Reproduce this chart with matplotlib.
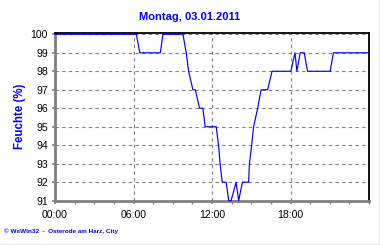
import matplotlib
matplotlib.use("Agg")
import matplotlib.pyplot as plt
from matplotlib.lines import Line2D
from matplotlib.ticker import MultipleLocator

plt.rcParams['font.family'] = ['Liberation Sans', 'DejaVu Sans']

# humidity readings (hour of day, percent)
hours = [0.0, 6.22, 6.48, 8.05, 8.25, 9.78, 10.03, 10.21, 10.54, 10.72,
         11.05, 11.30, 11.48, 12.32, 12.50, 12.62, 12.78, 13.08, 13.28, 13.46,
         13.84, 14.04, 14.32, 14.80, 14.86, 15.03, 15.18, 15.49, 15.75, 16.25,
         16.59, 18.03, 18.34, 18.49, 18.74, 19.05, 19.30, 21.03, 21.28, 23.95]
humidity = [100, 100, 99, 99, 100, 100, 99, 98, 97, 97,
            96, 96, 95, 95, 94, 93, 92, 92, 91, 91,
            92, 91, 92, 92, 93, 94, 95, 96, 97, 97,
            98, 98, 99, 98, 99, 99, 98, 98, 99, 99]

x_ticks = [0, 6, 12, 18]
x_labels = ['00:00', '06:00', '12:00', '18:00']
y_ticks = list(range(91, 101))

title = 'Montag, 03.01.2011'
ylabel = 'Feuchte (%)'
footer = '\u00a9 WsWin32  -  Osterode am Harz, City'

blue = '#0000ff'
grey = '#808080'

fig = plt.figure(figsize=(3.8, 2.45), dpi=100)
ax = fig.add_axes([55 / 380, 1 - 200.7 / 245, 314 / 380, 167.7 / 245])

ax.plot(hours, humidity, color=blue, lw=0.85, zorder=3, clip_on=False)

ax.set_xlim(0, 24)
ax.set_ylim(91, 100.07)
ax.set_xticks(x_ticks)
ax.set_xticklabels(x_labels)
ax.set_yticks(y_ticks)
ax.xaxis.set_minor_locator(MultipleLocator(1.5))
ax.yaxis.set_minor_locator(MultipleLocator(0.2))

ax.grid(True, which='major', color=grey, ls=(0, (3, 3)), lw=0.8)
ax.tick_params(axis='both', which='major', labelsize=7.6, color=grey,
               length=2.5, width=1.2, pad=2.5)
ax.tick_params(axis='x', which='minor', color=grey, length=2.5, width=1)
ax.tick_params(axis='y', which='minor', color=grey, length=1.2, width=1,
               direction='inout')
ax.tick_params(axis='x', which='major', pad=4)

for side in ['left', 'bottom']:
    ax.spines[side].set_color(grey)
    ax.spines[side].set_linewidth(2)
for side in ['top', 'right']:
    ax.spines[side].set_color('black')
    ax.spines[side].set_linewidth(1.3)

fig.text(0.5, 1 - 17.5 / 245, title, ha='center', va='center',
         color=blue, fontsize=8, fontweight='bold')
fig.text(20 / 380, 1 - 116.5 / 245, ylabel, ha='center', va='center',
         rotation=90, color=blue, fontsize=8.3, fontweight='bold')
fig.text(4 / 380, 1 - 231.5 / 245, footer, ha='left', va='center',
         color=blue, fontsize=4.6, fontweight='bold')

# frame lines at the right and bottom edge of the picture
fig.add_artist(Line2D([0, 1], [0.5 / 245, 0.5 / 245], color=grey, lw=1,
                      transform=fig.transFigure))
fig.add_artist(Line2D([379.5 / 380, 379.5 / 380], [0, 1], color=grey, lw=1,
                      transform=fig.transFigure))

fig.savefig('out.png', dpi=100)
